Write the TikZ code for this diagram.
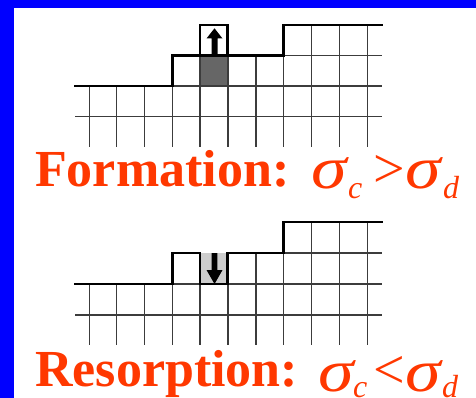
\documentclass[tikz,border=0pt]{standalone}
\usepackage{fontspec}
\setmainfont{Liberation Serif}
\definecolor{frameblue}{RGB}{0,0,255}
\definecolor{labelred}{RGB}{255,56,0}
\definecolor{gridgray}{RGB}{60,60,60}
\definecolor{darkcell}{RGB}{102,102,102}
\definecolor{lightcell}{RGB}{205,205,205}
\tikzset{
  gridline/.style={draw=gridgray, line width=1.6pt},
  profile/.style={draw=black, line width=2.6pt, line join=miter, line cap=rect},
  word/.style={text=labelred, anchor=base west, inner sep=0pt, font=\fontsize{52}{52}\selectfont\bfseries},
  sigma/.style={text=labelred, anchor=base west, inner sep=0pt, font=\fontsize{60}{60}\selectfont\itshape, xscale=1.2},
  rel/.style={text=labelred, anchor=base west, inner sep=0pt, font=\fontsize{56}{56}\selectfont},
  subsc/.style={text=labelred, anchor=base west, inner sep=0pt, font=\fontsize{32}{32}\selectfont\itshape},
  arrowshape/.style={fill=black, draw=none}
}
\begin{document}
\begin{tikzpicture}[x=1pt,y=-1pt]
\useasboundingbox (0,0) rectangle (476,398);
\fill[white] (0,0) rectangle (476,398);
% blue frame
\fill[frameblue] (0,0) rectangle (14,398);
\fill[frameblue] (0,0) rectangle (476,8);

% ================= top diagram =================
\fill[darkcell] (200,55.7) rectangle (227.7,86);
\draw[gridline] (75,116.7) -- (382,116.7);
\draw[gridline] (172.3,86) -- (382,86);
\draw[gridline] (283.3,55.7) -- (382,55.7);
\foreach \x in {89.3,116.3,144.3,172.3,200,227.7} \draw[gridline] (\x,86) -- (\x,147);
\foreach \x in {255.7,283.3} \draw[gridline] (\x,55.7) -- (\x,147);
\foreach \x in {311.3,339.3,367.3} \draw[gridline] (\x,25) -- (\x,147);
\draw[gridline] (200,55.7) -- (200,86);
\draw[gridline] (227.7,55.7) -- (227.7,86);
\draw[profile] (75,86) -- (172.3,86) -- (172.3,55.7) -- (200,55.7) -- (200,25) -- (227.7,25) -- (227.7,55.7) -- (283.3,55.7) -- (283.3,25) -- (382,25);
\draw[profile] (200,55.7) -- (227.7,55.7);
\fill[arrowshape] (211.6,55.7) -- (211.6,38.5) -- (206.5,38.5) -- (214.5,28.3) -- (222.5,38.5) -- (217.6,38.5) -- (217.6,55.7) -- cycle;

\node[word] (formation) at (35,186.5) {Formation:};
\node[sigma] (fs1) at (311,188) {σ};
\node[subsc] (fc) at (348,198) {c};
\node[rel] (fgt) at (373,187) {>};
\node[sigma] (fs2) at (405,188) {σ};
\node[subsc] (fd) at (443,198) {d};

% ================= bottom diagram =================
\fill[lightcell] (200,253) rectangle (227.7,284);
\draw[gridline] (75,315) -- (382,315);
\draw[gridline] (172.3,284) -- (200,284);
\draw[gridline] (227.7,284) -- (382,284);
\draw[gridline] (283.3,253) -- (382,253);
\foreach \x in {89.3,116.3,144.3,172.3,200,227.7} \draw[gridline] (\x,284) -- (\x,345);
\foreach \x in {255.7,283.3} \draw[gridline] (\x,253) -- (\x,345);
\foreach \x in {311.3,339.3,367.3} \draw[gridline] (\x,222) -- (\x,345);
\draw[profile] (75,284) -- (172.3,284) -- (172.3,253) -- (200,253) -- (200,284) -- (227.7,284) -- (227.7,253) -- (283.3,253) -- (283.3,222) -- (382,222);
\fill[arrowshape] (211.6,253) -- (211.6,270) -- (206.5,270) -- (214.5,284) -- (222.5,270) -- (217.4,270) -- (217.4,253) -- cycle;

\node[word] (resorption) at (35,386.5) {Resorption:};
\node[sigma] (rs1) at (318,391) {σ};
\node[subsc] (rc) at (353,397) {c};
\node[rel] (rlt) at (373,388) {<};
\node[sigma] (rs2) at (405,391) {σ};
\node[subsc] (rd) at (442,397) {d};
\end{tikzpicture}
\end{document}
